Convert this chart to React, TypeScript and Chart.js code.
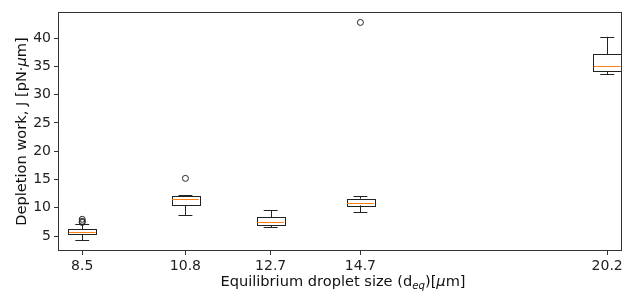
import React, { useEffect, useRef } from "react";
import { Chart, registerables } from "chart.js";

Chart.register(...registerables);

const positions = [8.5, 10.8, 12.7, 14.7, 20.2];
const whiskerLow = [4.29, 8.71, 6.59, 9.24, 33.57];
const q1 = [5.35, 10.48, 6.94, 10.42, 34.1];
const medians = [5.76, 11.59, 7.53, 10.78, 35.04];
const q3 = [6.18, 12.07, 8.3, 11.59, 37.16];
const whiskerHigh = [7.12, 12.24, 9.59, 12.07, 40.21];
const outlierX = [8.5, 8.5, 8.5, 10.8, 14.7];
const outlierY = [7.95, 7.6, 7.4, 15.19, 42.76];
const yTicks = [5, 10, 15, 20, 25, 30, 35, 40];
const xTickLabels = ["8.5", "10.8", "12.7", "14.7", "20.2"];

const BOX_W = 0.62;
const FONT = "DejaVu Sans";
const TS = 14.6;
const CANVAS_W = 627;

const boxPlugin = {
  id: "boxes",
  beforeDatasetsDraw(chart: any) {
    const { ctx, scales } = chart;
    const xs = scales.x;
    const ys = scales.y;
    const r = (v: number) => Math.round(v) + 0.5;
    ctx.save();
    ctx.lineWidth = 1;
    for (let i = 0; i < positions.length; i++) {
      const xc = xs.getPixelForValue(positions[i]);
      const xl = xs.getPixelForValue(positions[i] - BOX_W / 2);
      const xr = xs.getPixelForValue(positions[i] + BOX_W / 2);
      const cl = xs.getPixelForValue(positions[i] - BOX_W / 4);
      const cr = xs.getPixelForValue(positions[i] + BOX_W / 4);
      const yq1 = ys.getPixelForValue(q1[i]);
      const yq3 = ys.getPixelForValue(q3[i]);
      const ym = ys.getPixelForValue(medians[i]);
      const ylo = ys.getPixelForValue(whiskerLow[i]);
      const yhi = ys.getPixelForValue(whiskerHigh[i]);
      ctx.strokeStyle = "#222";
      ctx.beginPath();
      ctx.moveTo(r(xc), yq1);
      ctx.lineTo(r(xc), ylo);
      ctx.moveTo(r(xc), yq3);
      ctx.lineTo(r(xc), yhi);
      ctx.moveTo(cl, r(ylo));
      ctx.lineTo(cr, r(ylo));
      ctx.moveTo(cl, r(yhi));
      ctx.lineTo(cr, r(yhi));
      ctx.stroke();
      ctx.strokeRect(r(xl), r(yq3), Math.round(xr - xl), Math.round(yq1 - yq3));
      ctx.strokeStyle = "#ff7f0e";
      ctx.beginPath();
      ctx.moveTo(xl + 0.5, r(ym));
      ctx.lineTo(xr - 0.5, r(ym));
      ctx.stroke();
    }
    ctx.restore();
  },
  afterDraw(chart: any) {
    const { ctx, chartArea } = chart;
    ctx.save();
    ctx.strokeStyle = "#333";
    ctx.lineWidth = 1;
    ctx.strokeRect(
      Math.round(chartArea.left) + 0.5,
      Math.round(chartArea.top) + 0.5,
      Math.round(chartArea.right - chartArea.left) - 1,
      Math.round(chartArea.bottom - chartArea.top) - 1
    );
    ctx.fillStyle = "#111";
    // y title
    ctx.save();
    ctx.translate(22, (chartArea.top + chartArea.bottom) / 2);
    ctx.rotate(-Math.PI / 2);
    ctx.textBaseline = "middle";
    const p1 = "Depletion work, J [pN·";
    const p2 = "μ";
    const p3 = "m]";
    ctx.font = `${TS}px "${FONT}"`;
    const w1 = ctx.measureText(p1).width;
    const w3 = ctx.measureText(p3).width;
    ctx.font = `italic ${TS}px "${FONT}"`;
    const w2 = ctx.measureText(p2).width;
    let x = -(w1 + w2 + w3) / 2;
    ctx.textAlign = "left";
    ctx.font = `${TS}px "${FONT}"`;
    ctx.fillText(p1, x, 0);
    x += w1;
    ctx.font = `italic ${TS}px "${FONT}"`;
    ctx.fillText(p2, x, 0);
    x += w2;
    ctx.font = `${TS}px "${FONT}"`;
    ctx.fillText(p3, x, 0);
    ctx.restore();
    // x title
    const parts: [string, string, number][] = [
      ["Equilibrium droplet size (d", `${TS}px "${FONT}"`, 0],
      ["eq", `italic ${TS * 0.7}px "${FONT}"`, 3],
      [")[", `${TS}px "${FONT}"`, 0],
      ["μ", `italic ${TS}px "${FONT}"`, 0],
      ["m]", `${TS}px "${FONT}"`, 0],
    ];
    let total = 0;
    const widths: number[] = [];
    for (const [t, f] of parts) {
      ctx.font = f;
      const w = ctx.measureText(t).width;
      widths.push(w);
      total += w;
    }
    let xx = (chartArea.left + chartArea.right) / 2 - total / 2 + 3;
    const base = 286;
    ctx.textAlign = "left";
    ctx.textBaseline = "alphabetic";
    parts.forEach(([t, f, dy], i) => {
      ctx.font = f;
      ctx.fillText(t, xx, base + dy);
      xx += widths[i];
    });
    ctx.restore();
  },
};

export default function App() {
  const ref = useRef<HTMLCanvasElement>(null);
  useEffect(() => {
    if (!ref.current) return;
    const chart = new Chart(ref.current, {
      type: "scatter",
      data: {
        datasets: [
          {
            data: outlierX.map((x, i) => ({ x, y: outlierY[i] })),
            pointStyle: "circle",
            radius: 3,
            borderColor: "#222",
            backgroundColor: "rgba(0,0,0,0)",
            borderWidth: 1,
          },
        ],
      },
      options: {
        animation: false,
        responsive: false,
        maintainAspectRatio: false,
        layout: { padding: { left: 0, top: 12, right: 0, bottom: 0 } },
        plugins: { legend: { display: false }, tooltip: { enabled: false } },
        scales: {
          x: {
            type: "linear",
            min: 7.96,
            max: 20.53,
            afterBuildTicks: (s: any) => {
              s.ticks = positions.map((v) => ({ value: v }));
            },
            afterFit: (s: any) => {
              s.height = 41;
            },
            ticks: {
              color: "#222",
              font: { family: FONT, size: 14 },
              padding: 3,
              maxRotation: 0,
              autoSkip: false,
              callback: (v: any) => {
                const i = positions.indexOf(Number(v));
                return i >= 0 ? xTickLabels[i] : "";
              },
            },
            grid: {
              drawOnChartArea: false,
              drawTicks: true,
              tickLength: 4,
              tickColor: "#333",
            },
            border: { display: false },
          },
          y: {
            type: "linear",
            min: 2.35,
            max: 44.6,
            afterBuildTicks: (s: any) => {
              s.ticks = yTicks.map((v) => ({ value: v }));
            },
            afterFit: (s: any) => {
              s.width = 58;
            },
            ticks: {
              color: "#222",
              font: { family: FONT, size: 14 },
              padding: 3,
              autoSkip: false,
            },
            grid: {
              drawOnChartArea: false,
              drawTicks: true,
              tickLength: 4,
              tickColor: "#333",
            },
            border: { display: false },
          },
        },
      },
      plugins: [boxPlugin],
    });
    return () => chart.destroy();
  }, []);
  return (
    <div style={{ position: "fixed", left: 0, top: 0, width: 622, height: 292, overflow: "hidden", background: "#fff" }}>
      <canvas ref={ref} width={CANVAS_W} height={292} style={{ width: CANVAS_W, height: 292 }} />
    </div>
  );
}
